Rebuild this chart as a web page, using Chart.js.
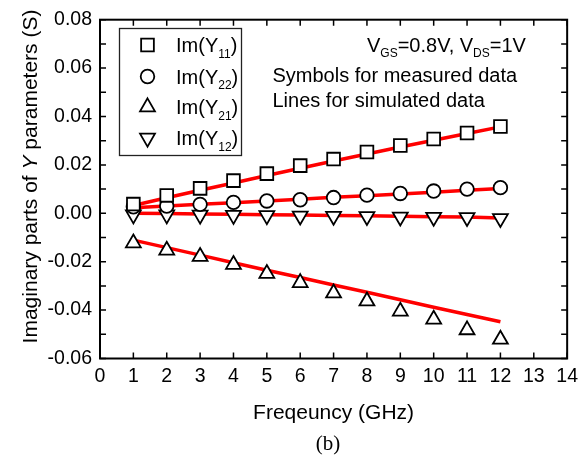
<!DOCTYPE html>
<html>
<head>
<meta charset="utf-8">
<script src="https://cdn.jsdelivr.net/npm/chart.js@4.4.0/dist/chart.umd.min.js"></script>
<style>
html, body { margin: 0; padding: 0; background: #fff; }
#wrap { width: 584px; height: 459px; }
</style>
</head>
<body>
<div id="wrap"><canvas id="yParams"></canvas></div>
<script>
// frequency points (GHz)
var freq = [1, 2, 3, 4, 5, 6, 7, 8, 9, 10, 11, 12];

// measured (symbols)
var im11 = [0.0038, 0.0074, 0.0103, 0.0135, 0.0164, 0.0197, 0.0224, 0.0253, 0.0280, 0.0307, 0.0332, 0.0359];
var im22 = [0.0027, 0.0030, 0.0037, 0.0045, 0.0051, 0.0056, 0.0065, 0.0075, 0.0082, 0.0092, 0.0100, 0.0106];
var im21 = [-0.0123, -0.0153, -0.0179, -0.0212, -0.0249, -0.0287, -0.0330, -0.0363, -0.0405, -0.0438, -0.0482, -0.0521];
var im12 = [-0.0006, -0.0006, -0.0007, -0.0008, -0.0009, -0.0011, -0.0012, -0.0013, -0.0015, -0.0016, -0.0017, -0.0021];

// simulated (red lines)
var sim11 = [0.0032, 0.0064, 0.0095, 0.0125, 0.0156, 0.0186, 0.0216, 0.0245, 0.0274, 0.0302, 0.0330, 0.0357];
var sim22 = [0.0023, 0.0030, 0.0037, 0.0044, 0.0051, 0.0058, 0.0066, 0.0073, 0.0080, 0.0087, 0.0095, 0.0102];
var sim21 = [-0.0111, -0.0142, -0.0173, -0.0204, -0.0235, -0.0265, -0.0296, -0.0326, -0.0357, -0.0388, -0.0418, -0.0448];
var sim12 = [0.0000, -0.0001, -0.0003, -0.0004, -0.0006, -0.0007, -0.0009, -0.0010, -0.0012, -0.0014, -0.0015, -0.0019];

var legendNames = [['Im(Y', '11', ')'], ['Im(Y', '22', ')'], ['Im(Y', '21', ')'], ['Im(Y', '12', ')']];

var FONT = '"Liberation Sans", Arial, sans-serif';
Chart.defaults.font.family = FONT;
Chart.defaults.color = '#000';

function pts(ys) {
   return freq.map(function (f, i) { return { x: f, y: ys[i] }; });
}

function simLine(ys) {
   return {
      data: pts(ys),
      borderColor: '#ff0000',
      borderWidth: 3.5,
      pointRadius: 0,
      fill: false,
      order: 2,
   };
}

var markers = [
   { style: 'rect', radius: 9, rotation: 0 },
   { style: 'circle', radius: 6.8, rotation: 0 },
   { style: 'triangle', radius: 8.6, rotation: 0 },
   { style: 'triangle', radius: 8.6, rotation: 180 },
];

function measured(ys, m) {
   return {
      data: pts(ys),
      showLine: false,
      pointStyle: m.style,
      pointRadius: m.radius,
      pointRotation: m.rotation,
      pointBackgroundColor: '#fff',
      pointBorderColor: '#000',
      pointBorderWidth: 1.8,
      order: 1,
   };
}

// draw a string made of normal / subscript pieces
function drawParts(ctx, parts, x, y, size) {
   parts.forEach(function (p, i) {
      var sub = i % 2 === 1;
      ctx.font = (sub ? Math.round(size * 0.58) : size) + 'px ' + FONT;
      ctx.fillText(p, x, sub ? y + 5.5 : y);
      x += ctx.measureText(p).width;
   });
}

var framePlugin = {
   id: 'frame',
   afterDraw: function (chart) {
      var ctx = chart.ctx;
      var a = chart.chartArea;
      var xs = chart.scales.x, ys = chart.scales.y;
      ctx.save();
      ctx.strokeStyle = '#000';

      // inward ticks on all four sides
      ctx.lineWidth = 1.5;
      ctx.beginPath();
      xs.ticks.forEach(function (t) {
         var px = xs.getPixelForValue(t.value);
         ctx.moveTo(px, a.bottom); ctx.lineTo(px, a.bottom - 6);
         ctx.moveTo(px, a.top); ctx.lineTo(px, a.top + 6);
      });
      ys.ticks.forEach(function (t) {
         var py = ys.getPixelForValue(t.value);
         ctx.moveTo(a.left, py); ctx.lineTo(a.left + 6, py);
         ctx.moveTo(a.right, py); ctx.lineTo(a.right - 6, py);
      });
      ctx.stroke();

      ctx.lineWidth = 2;
      ctx.strokeRect(a.left, a.top, a.right - a.left, a.bottom - a.top);

      // legend box
      ctx.lineWidth = 1.3;
      ctx.strokeStyle = '#222';
      ctx.strokeRect(119.5, 28.5, 122, 127);
      var rowsY = [45, 76.5, 107, 138];
      ctx.fillStyle = '#000';
      ctx.textBaseline = 'alphabetic';
      markers.forEach(function (m, i) {
         ctx.save();
         ctx.fillStyle = '#fff';
         ctx.strokeStyle = '#000';
         ctx.lineWidth = 1.8;
         Chart.helpers.drawPoint(ctx, { pointStyle: m.style, radius: m.radius, rotation: m.rotation, borderWidth: 1.8 }, 147.5, rowsY[i]);
         ctx.restore();
         drawParts(ctx, legendNames[i], 176, rowsY[i] + 7, 20);
      });

      // annotations
      drawParts(ctx, ['V', 'GS', '=0.8V, V', 'DS', '=1V'], 367, 51.5, 20);
      ctx.font = '20px ' + FONT;
      ctx.fillText('Symbols for measured data', 272.5, 81.5);
      ctx.fillText('Lines for simulated data', 272.5, 107);

      // y-axis title with italic Y
      var title = [['Imaginary parts of ', ''], ['Y', 'italic '], [' parameters (S)', '']];
      var w = 0;
      title.forEach(function (p) { ctx.font = p[1] + '21px ' + FONT; w += ctx.measureText(p[0]).width; });
      ctx.translate(36.5, 176.5);
      ctx.rotate(-Math.PI / 2);
      var tx = -w / 2;
      title.forEach(function (p) {
         ctx.font = p[1] + '21px ' + FONT;
         ctx.fillText(p[0], tx, 0);
         tx += ctx.measureText(p[0]).width;
      });
      ctx.restore();

      ctx.save();
      ctx.font = '21px "Liberation Serif", serif';
      ctx.textAlign = 'center';
      ctx.fillStyle = '#000';
      ctx.fillText('(b)', 328, 450);
      ctx.restore();
   },
};

new Chart('yParams', {
   type: 'line',
   data: {
      datasets: [
         measured(im11, markers[0]),
         measured(im22, markers[1]),
         measured(im21, markers[2]),
         measured(im12, markers[3]),
         simLine(sim11),
         simLine(sim22),
         simLine(sim21),
         simLine(sim12),
      ],
   },
   options: {
      responsive: true,
      maintainAspectRatio: false,
      animation: false,
      devicePixelRatio: 1,
      layout: { padding: { top: 16, right: 14.5, bottom: 0, left: 0 } },
      plugins: { legend: { display: false }, tooltip: { enabled: false } },
      scales: {
         x: {
            type: 'linear',
            min: 0,
            max: 14,
            grid: { display: false, drawTicks: false },
            border: { display: false },
            ticks: { stepSize: 1, autoSkip: false, padding: 6, font: { size: 19.5 } },
            title: {
               display: true,
               text: 'Freqeuncy (GHz)',
               font: { size: 21 },
               padding: { top: 0, bottom: 33 },
            },
            afterFit: function (s) { s.height = 100.5; },
         },
         y: {
            min: -0.06,
            max: 0.08,
            grid: { display: false, drawTicks: false },
            border: { display: false },
            ticks: {
               stepSize: 0.01,
               autoSkip: false,
               padding: 8,
               font: { size: 19.5 },
               callback: function (v) {
                  var k = Math.round(v * 100);
                  return k % 2 === 0 ? (k / 100).toFixed(2) : '';
               },
            },
            afterFit: function (s) { s.width = 100; },
         },
      },
   },
   plugins: [framePlugin],
});
</script>
</body>
</html>
